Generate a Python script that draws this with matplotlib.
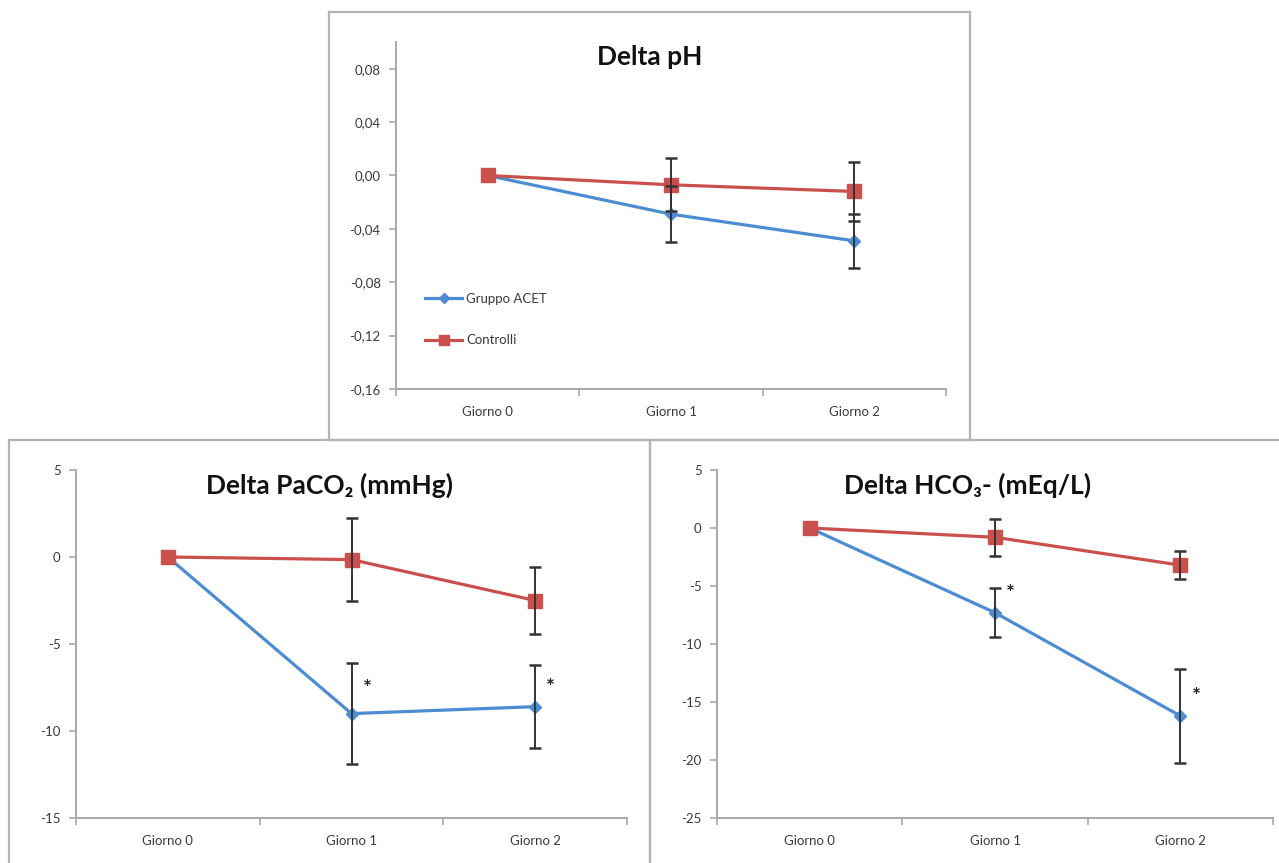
import matplotlib
matplotlib.use('Agg')
import matplotlib.pyplot as plt
from matplotlib.patches import Rectangle

plt.rcParams['font.family'] = ['Lato', 'DejaVu Sans']
plt.rcParams['axes.unicode_minus'] = False

giorni = ['Giorno 0', 'Giorno 1', 'Giorno 2']
x = [0, 1, 2]

# Delta pH
ph_acet = [0.0, -0.029, -0.049]
ph_acet_err = [0.0, 0.021, 0.020]
ph_ctrl = [0.0, -0.007, -0.012]
ph_ctrl_err = [0.0, 0.020, 0.022]
ph_ticks = [-0.16, -0.12, -0.08, -0.04, 0.0, 0.04, 0.08]
ph_ticklabels = ['-0,16', '-0,12', '-0,08', '-0,04', '0,00', '0,04', '0,08']

# Delta PaCO2
co2_acet = [0.0, -9.0, -8.6]
co2_acet_err = [0.0, 2.9, 2.4]
co2_ctrl = [0.0, -0.15, -2.5]
co2_ctrl_err = [0.0, 2.4, 1.9]
co2_ticks = [-15, -10, -5, 0, 5]
co2_star_y = [-7.6, -7.5]

# Delta HCO3-
hco3_acet = [0.0, -7.3, -16.2]
hco3_acet_err = [0.0, 2.1, 4.05]
hco3_ctrl = [0.0, -0.8, -3.2]
hco3_ctrl_err = [0.0, 1.6, 1.2]
hco3_ticks = [-25, -20, -15, -10, -5, 0, 5]
hco3_star_y = [-5.7, -14.6]

BLUE = '#4C8CD3'
RED = '#C9504C'
AXC = '#A8A8A8'
TXT = '#3a3a3a'

W, H = 1279, 863
fig = plt.figure(figsize=(W / 100, H / 100), dpi=100)


def px_rect(x0, y0, x1, y1):
    return [x0 / W, 1 - y1 / H, (x1 - x0) / W, (y1 - y0) / H]


# panel frames
for (x0, y0, x1, y1) in [(9, 440, 650, 875), (650, 440, 1295, 875), (329, 12, 970, 440)]:
    fig.add_artist(Rectangle((x0 / W, 1 - y1 / H), (x1 - x0) / W, (y1 - y0) / H,
                             transform=fig.transFigure, fill=False,
                             edgecolor='#B4B4B4', lw=1.6))


def panel(rect, acet, acet_err, ctrl, ctrl_err, ylim, yticks, ylabels=None):
    ax = fig.add_axes(px_rect(*rect))
    ax.plot(x, acet, color=BLUE, lw=2.3, marker='D', ms=6.5, zorder=3, label='Gruppo ACET')
    ax.plot(x, ctrl, color=RED, lw=2.3, marker='s', ms=9.5, zorder=3, label='Controlli')
    for vals, errs in [(acet, acet_err), (ctrl, ctrl_err)]:
        xs = [xi for xi, e in zip(x, errs) if e > 0]
        ys = [v for v, e in zip(vals, errs) if e > 0]
        es = [e for e in errs if e > 0]
        ax.errorbar(xs, ys, yerr=es, fmt='none', ecolor='#333333', elinewidth=1.4,
                    capsize=4.5, capthick=1.8, zorder=4)
    ax.set_xlim(-0.5, 2.5)
    ax.set_ylim(*ylim)
    ax.set_yticks(yticks)
    if ylabels is not None:
        ax.set_yticklabels(ylabels)
    ax.set_xticks([-0.5, 0.5, 1.5, 2.5])
    ax.set_xticklabels([])
    ax.set_xticks(x, minor=True)
    ax.set_xticklabels(giorni, minor=True)
    ax.tick_params(axis='x', which='major', direction='out', length=5, width=1.2, color=AXC)
    ax.tick_params(axis='x', which='minor', length=0, pad=12, labelsize=9.5, labelcolor=TXT)
    ax.tick_params(axis='y', direction='out', length=5, width=1.2, color=AXC,
                   pad=6, labelsize=9.5, labelcolor=TXT)
    for s in ['top', 'right']:
        ax.spines[s].set_visible(False)
    for s in ['left', 'bottom']:
        ax.spines[s].set_color(AXC)
        ax.spines[s].set_linewidth(1.4)
    ax.set_facecolor('none')
    return ax


ax1 = panel((396, 42, 946, 389), ph_acet, ph_acet_err, ph_ctrl, ph_ctrl_err,
            (-0.16, 0.10), ph_ticks, ph_ticklabels)
ax1.legend(loc='center left', bbox_to_anchor=(0.053, 0.200), frameon=False,
           borderpad=0, borderaxespad=0, handlelength=2.8, handletextpad=0.3,
           labelspacing=2.25, fontsize=9.5, labelcolor=TXT, markerscale=0.8)
fig.text(650 / W, 1 - 57 / H, 'Delta pH', ha='center', va='center',
         fontsize=19, fontweight='bold', color='#111111')

ax2 = panel((76, 470, 627, 818), co2_acet, co2_acet_err, co2_ctrl, co2_ctrl_err,
            (-15, 5), co2_ticks)
fig.text(329 / W, 1 - 485 / H, 'Delta PaCO\u2082 (mmHg)', ha='center', va='center',
         fontsize=19, fontweight='bold', color='#111111')
for i, yv in zip([1, 2], co2_star_y):
    ax2.text(i + 0.085, yv, '*', ha='center', va='center', fontsize=15,
             fontweight='bold', color='#222222')

ax3 = panel((717, 470, 1273, 818), hco3_acet, hco3_acet_err, hco3_ctrl, hco3_ctrl_err,
            (-25, 5), hco3_ticks)
fig.text(968 / W, 1 - 485 / H, 'Delta HCO\u2083- (mEq/L)', ha='center', va='center',
         fontsize=19, fontweight='bold', color='#111111')
for i, yv in zip([1, 2], hco3_star_y):
    ax3.text(i + 0.085, yv, '*', ha='center', va='center', fontsize=15,
             fontweight='bold', color='#222222')

fig.savefig('out.png', dpi=100)
